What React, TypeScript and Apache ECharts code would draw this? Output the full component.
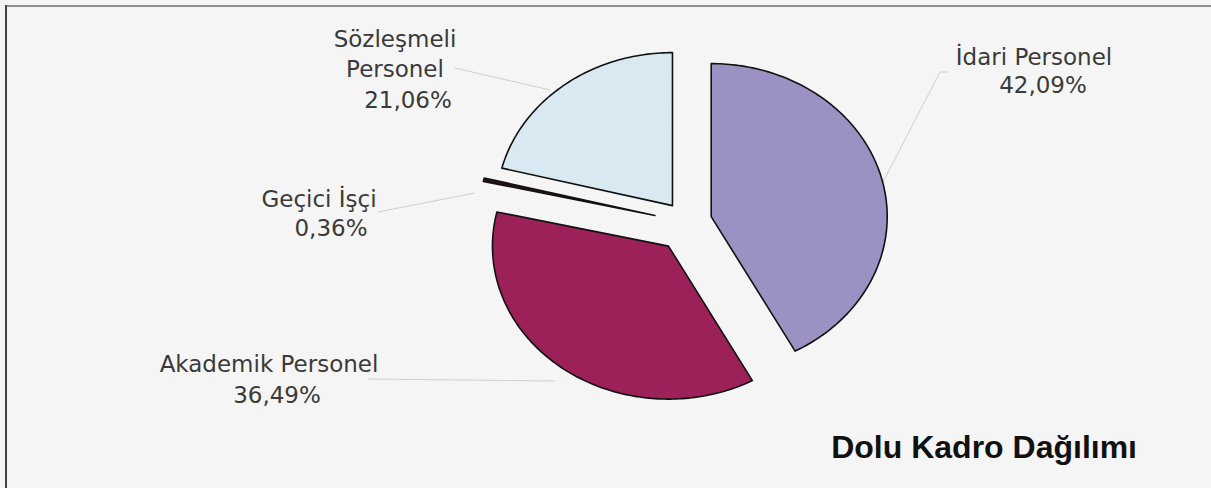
import React, { useEffect, useRef } from "react";
import * as echarts from "echarts";

const categories = ["İdari Personel", "Akademik Personel", "Geçici İşçi", "Sözleşmeli Personel"];
const values = [42.09, 36.49, 0.36, 21.06];
const sliceColors = ["#9b91c3", "#9b2158", "#2a1020", "#d8e9f1"];
const explodeDist = [26, 29, 32, 22];
const chartTitle = "Dolu Kadro Dağılımı";

const fmt = (v: number) => v.toFixed(2).replace(".", ",") + "%";

export default function App() {
  const ref = useRef<HTMLDivElement>(null);
  useEffect(() => {
    document.body.style.margin = "0";
    const chart = echarts.init(ref.current!, null, { renderer: "svg" });
    const total = values.reduce((a, b) => a + b, 0);
    const starts: number[] = [];
    let acc = 90;
    values.forEach((v) => {
      starts.push(acc);
      acc -= (v / total) * 360;
    });
    const cx = 686, cy = 223, rx = 176, ry = 153;

    const renderItem = (params: any, api: any) => {
      const i = params.dataIndex;
      const v = api.value(0);
      const sweep = (v / total) * 360;
      const start = starts[i];
      const end = start - sweep;
      const mid = ((start + end) / 2) * Math.PI / 180;
      const ox = cx + explodeDist[i] * Math.cos(mid);
      const oy = cy - explodeDist[i] * Math.sin(mid);
      const pts: number[][] = [[ox, oy]];
      const n = Math.max(2, Math.ceil(sweep));
      for (let k = 0; k <= n; k++) {
        const a = (start - (sweep * k) / n) * Math.PI / 180;
        pts.push([ox + rx * Math.cos(a), oy - ry * Math.sin(a)]);
      }
      return {
        type: "polygon",
        shape: { points: pts },
        style: { fill: sliceColors[i], stroke: "#111", lineWidth: 1.6, lineJoin: "round" },
      };
    };

    const labelFont = { fontFamily: "DejaVu Sans", fontSize: 23, fill: "#3a3a3a" };
    const t = (text: string, x: number, y: number) => ({
      type: "text",
      x,
      y,
      style: { text, align: "center", verticalAlign: "middle", ...labelFont },
    });
    const leader = (pts: number[][]) => ({
      type: "polyline",
      shape: { points: pts },
      style: { stroke: "#cfcfcf", lineWidth: 1, fill: "none" },
    });

    chart.setOption({
      animation: false,
      backgroundColor: "#f5f5f5",
      series: [
        {
          type: "custom",
          coordinateSystem: "none",
          renderItem,
          data: values.map((v) => [v]),
        },
      ],
      graphic: [
        { type: "line", shape: { x1: 5, y1: 6, x2: 1211, y2: 6 }, style: { stroke: "#8e8e8e", lineWidth: 2 } },
        { type: "line", shape: { x1: 6, y1: 5, x2: 6, y2: 488 }, style: { stroke: "#444", lineWidth: 2 } },
        leader([[883, 182], [940, 72], [948, 72]]),
        leader([[455, 68], [550, 90]]),
        leader([[378, 212], [475, 193]]),
        leader([[368, 379], [555, 381]]),
        t(categories[0], 1034, 57),
        t(fmt(values[0]), 1043, 85),
        t("Sözleşmeli", 395, 39),
        t("Personel", 395, 69),
        t(fmt(values[3]), 408, 100),
        t(categories[2], 319, 199),
        t(fmt(values[2]), 331, 228),
        t(categories[1], 269, 364),
        t(fmt(values[1]), 277, 395),
        {
          type: "text",
          x: 1137,
          y: 447,
          style: {
            text: chartTitle,
            align: "right",
            verticalAlign: "middle",
            fontFamily: "Liberation Sans",
            fontWeight: "bold",
            fontSize: 32,
            fill: "#111",
          },
        },
      ],
    });
    return () => chart.dispose();
  }, []);
  return <div ref={ref} style={{ width: 1211, height: 488 }} />;
}
